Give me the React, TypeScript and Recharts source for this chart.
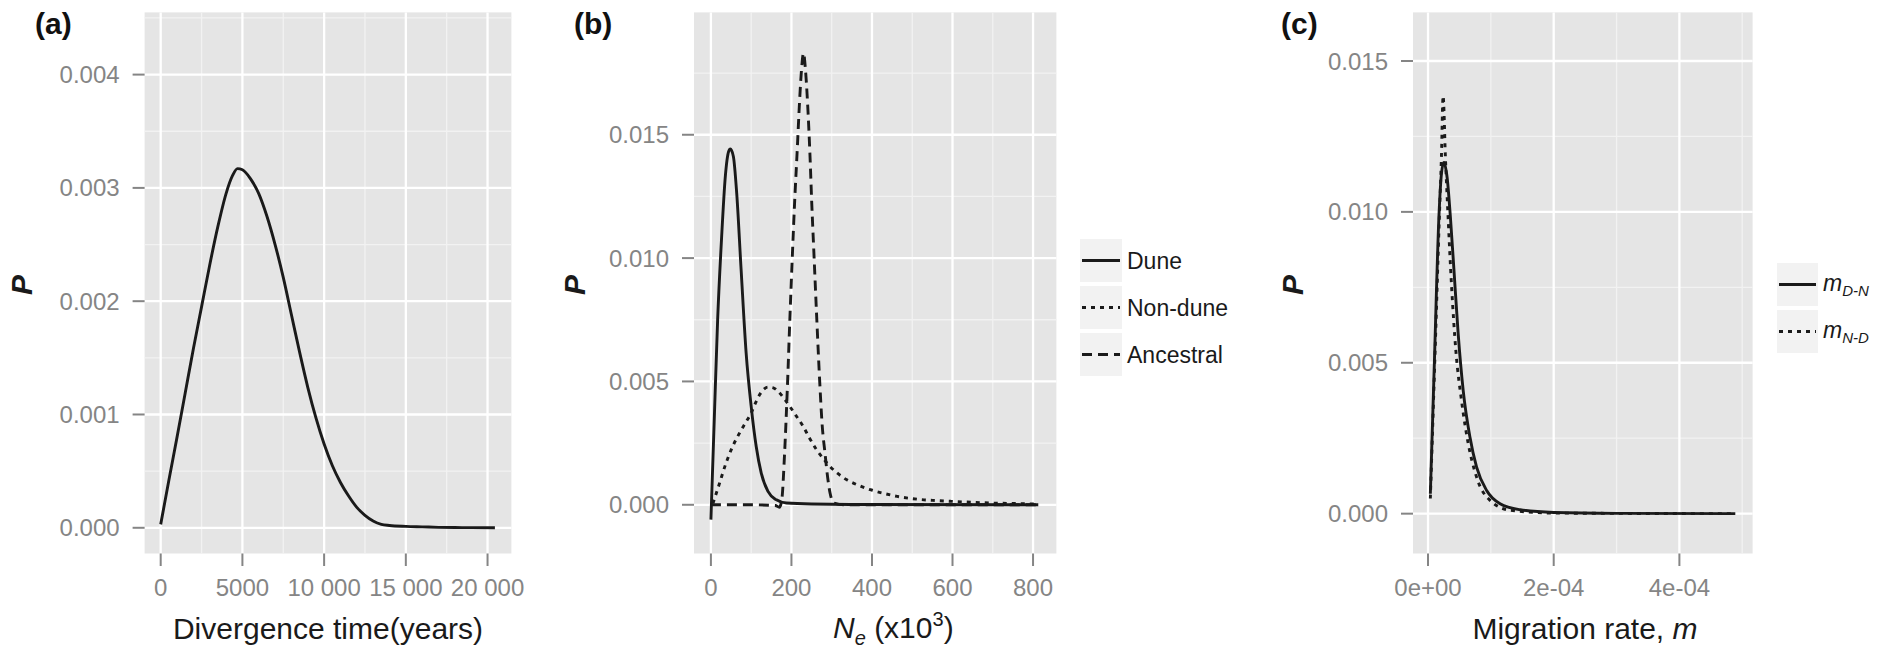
import React from 'react';
import { LineChart, Line, XAxis, YAxis, CartesianGrid } from 'recharts';

// ---------- Panel (a): divergence time ----------
const divTimeYears = [0, 500, 1000, 1500, 2000, 2500, 3000, 3500, 4000, 4400, 4700, 5000, 5500, 6000, 6500, 7000, 7500, 8000, 8500, 9000, 9500, 10000, 10500, 11000, 11500, 12000, 12500, 13000, 13500, 14000, 15000, 16000, 17000, 18000, 19000, 20450];
const divTimeP = [0.00003, 0.00042, 0.0008, 0.00119, 0.00158, 0.00195, 0.00232, 0.00266, 0.00295, 0.00311, 0.00317, 0.00316, 0.00308, 0.00295, 0.00275, 0.0025, 0.00221, 0.00188, 0.00155, 0.00124, 0.00097, 0.00074, 0.00055, 0.0004, 0.00028, 0.00018, 0.00011, 0.00006, 0.00003, 0.00002, 0.000012, 0.000008, 0.000004, 0.000002, 0.000001, 0];
const aXTicks = [0, 5000, 10000, 15000, 20000];
const aXTickLabels = ['0', '5000', '10 000', '15 000', '20 000'];
const aXMinor = [2500, 7500, 12500, 17500];
const aYTicks = [0, 0.001, 0.002, 0.003, 0.004];
const aYTickLabels = ['0.000', '0.001', '0.002', '0.003', '0.004'];
const aYMinor = [0.0005, 0.0015, 0.0025, 0.0035, 0.0045];

// ---------- Panel (b): Ne (x10^3) ----------
const duneNe = [0, 8.3, 16.7, 26.7, 35.8, 44, 48.3, 55.8, 64, 75, 87.5, 100, 112.5, 125, 141.7, 162.5, 187.5, 250, 400, 813];
const duneP = [-0.0006, 0.00345, 0.0075, 0.01088, 0.01331, 0.01432, 0.01442, 0.01412, 0.01264, 0.00953, 0.00615, 0.00399, 0.00236, 0.00128, 0.00054, 0.0002, 0.00007, 0.00003, 0.00001, 0];
const nonDuneNe = [5, 20, 37.5, 55, 70.8, 85, 100, 110, 120.8, 131, 141.7, 155, 166.7, 180, 195.8, 212, 229, 245, 262.5, 280, 296, 315, 337.5, 365, 396, 430, 462.5, 495, 529, 560, 596, 650, 700, 760, 813];
const nonDuneP = [0.00005, 0.0008, 0.00169, 0.0024, 0.0029, 0.0033, 0.00372, 0.0041, 0.00446, 0.00468, 0.00477, 0.00474, 0.0046, 0.00435, 0.00399, 0.0036, 0.00318, 0.0027, 0.00223, 0.00185, 0.00155, 0.00127, 0.00101, 0.0008, 0.00061, 0.00046, 0.00034, 0.00026, 0.0002, 0.00017, 0.00014, 0.0001, 0.00007, 0.00005, 0.00003];
const ancestralNe = [0, 100, 160, 170, 176, 183, 190, 196, 202.5, 208, 214, 220, 225, 230, 235, 240, 245.8, 250.5, 255.8, 263, 270.8, 276, 283.3, 290, 296, 306, 330, 813];
const ancestralP = [0, 0, -0.00003, -0.0001, 0.0002, 0.0021, 0.0048, 0.0075, 0.0102, 0.0123, 0.01426, 0.0163, 0.01764, 0.01831, 0.0176, 0.0163, 0.01426, 0.0122, 0.0102, 0.0075, 0.0048, 0.0033, 0.0021, 0.0011, 0.00047, 0.00007, 0, 0];
const bXTicks = [0, 200, 400, 600, 800];
const bXTickLabels = ['0', '200', '400', '600', '800'];
const bXMinor = [100, 300, 500, 700];
const bYTicks = [0, 0.005, 0.01, 0.015];
const bYTickLabels = ['0.000', '0.005', '0.010', '0.015'];
const bYMinor = [0.0025, 0.0075, 0.0125, 0.0175];
const bSeriesNames = ['Dune', 'Non-dune', 'Ancestral'];

// ---------- Panel (c): migration rate ----------
const mDNRate = [3.7e-6, 1.01e-5, 1.76e-5, 2.13e-5, 2.5e-5, 3.04e-5, 3.57e-5, 4.1e-5, 4.8e-5, 5.6e-5, 6.67e-5, 7.73e-5, 9.33e-5, 1.147e-4, 1.467e-4, 2e-4, 3e-4, 4.89e-4];
const mDNP = [0.00066, 0.005, 0.00996, 0.01125, 0.01164, 0.01114, 0.0098, 0.00816, 0.00596, 0.00408, 0.00254, 0.00154, 0.00077, 0.00033, 0.00013, 0.00004, 0.00001, 0];
const mNDRate = [3.7e-6, 1.07e-5, 1.8e-5, 2.13e-5, 2.4e-5, 2.77e-5, 3.2e-5, 3.73e-5, 4.43e-5, 5.33e-5, 6.4e-5, 7.73e-5, 9.87e-5, 1.31e-4, 2e-4, 4.89e-4];
const mNDP = [0.0005, 0.005, 0.0098, 0.0118, 0.01384, 0.0118, 0.0098, 0.0076, 0.0054, 0.00375, 0.00232, 0.00121, 0.00044, 0.00011, 0.00002, 0];
const cXTicks = [0, 2e-4, 4e-4];
const cXTickLabels = ['0e+00', '2e-04', '4e-04'];
const cXMinor = [1e-4, 3e-4, 5e-4];
const cYTicks = [0, 0.005, 0.01, 0.015];
const cYTickLabels = ['0.000', '0.005', '0.010', '0.015'];
const cYMinor = [0.0025, 0.0075, 0.0125];

// ---------- styles ----------
const FONT = "'Liberation Sans', Arial, Helvetica, sans-serif";
const PANEL_BG = '#e5e5e5';
const MINOR = '#f2f2f2';
const TICK = '#858585';
const INK = '#1a1a1a';
const LINE_W = 2.9;
const DASHED = '10 6';
const DOTTED = '4 5';
const PLOT_TOP = 12.4;
const X_AXIS_H = 96.5;

type Pt = { x: number; y: number };
const zip = (xs: number[], ys: number[]): Pt[] => xs.map((x, i) => ({ x, y: ys[i] }));

type Series = { name: string; data: Pt[]; dash?: string };

const labelFor = (ticks: number[], labels: string[]) => (v: number) => {
  const i = ticks.findIndex((t) => Math.abs(t - v) < 1e-12);
  return i >= 0 ? labels[i] : String(v);
};

function Panel(props: {
  left: number; width: number; yAxisWidth: number; right: number;
  xDomain: [number, number]; yDomain: [number, number];
  xTicks: number[]; xLabels: string[]; xMinor: number[];
  yTicks: number[]; yLabels: string[]; yMinor: number[];
  series: Series[];
}) {
  const p = props;
  return (
    <div style={{ position: 'absolute', left: p.left, top: 0 }}>
      <LineChart width={p.width} height={650} margin={{ top: PLOT_TOP, right: p.right, bottom: 0, left: 0 }}>
        <CartesianGrid fill={PANEL_BG} fillOpacity={1} stroke={MINOR} strokeWidth={1.3}
          horizontalValues={p.yMinor} verticalValues={p.xMinor} />
        <CartesianGrid stroke="#ffffff" strokeWidth={2.3}
          horizontalValues={p.yTicks} verticalValues={p.xTicks} />
        <XAxis type="number" dataKey="x" domain={p.xDomain} allowDataOverflow ticks={p.xTicks}
          interval={0} height={X_AXIS_H} axisLine={false}
          tickLine={{ stroke: TICK, strokeWidth: 2 }} tickSize={12.5} tickMargin={12.8}
          tick={{ fill: TICK, fontSize: 24, fontFamily: FONT }}
          tickFormatter={labelFor(p.xTicks, p.xLabels)} />
        <YAxis type="number" dataKey="y" domain={p.yDomain} allowDataOverflow ticks={p.yTicks}
          interval={0} width={p.yAxisWidth} axisLine={false}
          tickLine={{ stroke: TICK, strokeWidth: 2 }} tickSize={12} tickMargin={13}
          tick={{ fill: TICK, fontSize: 24, fontFamily: FONT }}
          tickFormatter={labelFor(p.yTicks, p.yLabels)} />
        {p.series.map((s) => (
          <Line key={s.name} name={s.name} data={s.data} dataKey="y" type="monotone"
            stroke={INK} strokeWidth={LINE_W} strokeDasharray={s.dash}
            dot={false} activeDot={false} isAnimationActive={false} />
        ))}
      </LineChart>
    </div>
  );
}

function Overlay() {
  const letter = { fontFamily: FONT, fontSize: 30, fontWeight: 700, fill: '#111' } as const;
  const title = { fontFamily: FONT, fontSize: 30, fill: '#1a1a1a' } as const;
  const pLab = { fontFamily: FONT, fontSize: 30, fontStyle: 'italic', fontWeight: 700, fill: '#1a1a1a' } as const;
  const legText = { fontFamily: FONT, fontSize: 23, fill: '#1a1a1a' } as const;
  const bKeys = [
    { y: 239, dash: undefined as string | undefined },
    { y: 286, dash: DOTTED },
    { y: 333, dash: DASHED },
  ];
  const cKeys = [
    { y: 263, dash: undefined as string | undefined, sub: 'D-N' },
    { y: 310, dash: DOTTED, sub: 'N-D' },
  ];
  return (
    <svg width={1886} height={650} style={{ position: 'absolute', left: 0, top: 0, pointerEvents: 'none' }}>
      <text x={35} y={34} {...letter}>(a)</text>
      <text x={574} y={34} {...letter}>(b)</text>
      <text x={1281} y={34} {...letter}>(c)</text>

      <text transform="translate(32,285) rotate(-90)" textAnchor="middle" {...pLab}>P</text>
      <text transform="translate(585,285) rotate(-90)" textAnchor="middle" {...pLab}>P</text>
      <text transform="translate(1303,285) rotate(-90)" textAnchor="middle" {...pLab}>P</text>

      <text x={328} y={639} textAnchor="middle" {...title}>Divergence time(years)</text>
      <text x={833} y={638} {...title}>
        <tspan fontStyle="italic">N</tspan>
        <tspan fontStyle="italic" fontSize={20} dy={7}>e</tspan>
        <tspan dy={-7}> (x10</tspan>
        <tspan fontSize={20} dy={-12}>3</tspan>
        <tspan dy={12}>)</tspan>
      </text>
      <text x={1585} y={639} textAnchor="middle" {...title}>
        Migration rate, <tspan fontStyle="italic">m</tspan>
      </text>

      {bKeys.map((k, i) => (
        <g key={bSeriesNames[i]}>
          <rect x={1080} y={k.y} width={42} height={43} fill={MINOR} />
          <line x1={1082} x2={1120} y1={k.y + 21.5} y2={k.y + 21.5} stroke={INK} strokeWidth={LINE_W} strokeDasharray={k.dash} />
          <text x={1127} y={k.y + 21.5 + 8} {...legText}>{bSeriesNames[i]}</text>
        </g>
      ))}

      {cKeys.map((k) => (
        <g key={k.sub}>
          <rect x={1777} y={k.y} width={41} height={43} fill={MINOR} />
          <line x1={1779} x2={1816} y1={k.y + 21.5} y2={k.y + 21.5} stroke={INK} strokeWidth={LINE_W} strokeDasharray={k.dash} />
          <text x={1823} y={k.y + 21.5 + 6} {...legText} fontStyle="italic">
            m<tspan fontSize={15} dy={5}>{k.sub}</tspan>
          </text>
        </g>
      ))}
    </svg>
  );
}

export default function App() {
  const aSeries: Series[] = [{ name: 'Divergence', data: zip(divTimeYears, divTimeP) }];
  const bSeries: Series[] = [
    { name: bSeriesNames[0], data: zip(duneNe, duneP) },
    { name: bSeriesNames[1], data: zip(nonDuneNe, nonDuneP), dash: DOTTED },
    { name: bSeriesNames[2], data: zip(ancestralNe, ancestralP), dash: DASHED },
  ];
  const cSeries: Series[] = [
    { name: 'mDN', data: zip(mDNRate, mDNP) },
    { name: 'mND', data: zip(mNDRate, mNDP), dash: DOTTED },
  ];
  return (
    <div style={{ position: 'absolute', left: 0, top: 0, width: 1886, height: 650, background: '#ffffff', overflow: 'hidden' }}>
      <Panel left={0} width={540} yAxisWidth={144.6} right={28.6}
        xDomain={[-985, 21460]} yDomain={[-0.000227, 0.004549]}
        xTicks={aXTicks} xLabels={aXTickLabels} xMinor={aXMinor}
        yTicks={aYTicks} yLabels={aYTickLabels} yMinor={aYMinor} series={aSeries} />
      <Panel left={560} width={520} yAxisWidth={134} right={23.6}
        xDomain={[-42, 858]} yDomain={[-0.001975, 0.01996]}
        xTicks={bXTicks} xLabels={bXTickLabels} xMinor={bXMinor}
        yTicks={bYTicks} yLabels={bYTickLabels} yMinor={bYMinor} series={bSeries} />
      <Panel left={1280} width={500} yAxisWidth={133} right={27.4}
        xDomain={[-2.39e-5, 5.165e-4]} yDomain={[-0.00132, 0.01661]}
        xTicks={cXTicks} xLabels={cXTickLabels} xMinor={cXMinor}
        yTicks={cYTicks} yLabels={cYTickLabels} yMinor={cYMinor} series={cSeries} />
      <Overlay />
    </div>
  );
}
